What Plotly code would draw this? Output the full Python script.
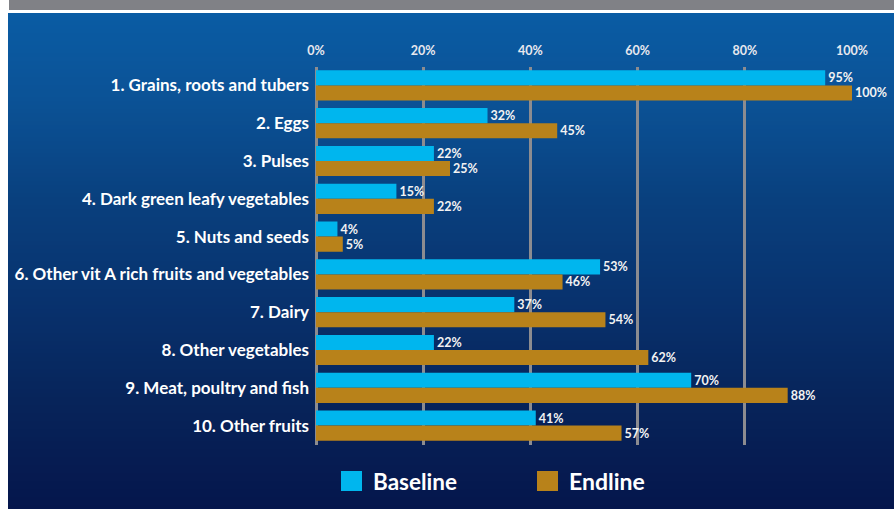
import plotly.graph_objects as go

W, H = 894, 509

categories = [
    "1. Grains, roots and tubers",
    "2. Eggs",
    "3. Pulses",
    "4. Dark green leafy vegetables",
    "5. Nuts and seeds",
    "6. Other vit A rich fruits and vegetables",
    "7. Dairy",
    "8. Other vegetables",
    "9. Meat, poultry and fish",
    "10. Other fruits",
]
baseline = [95, 32, 22, 15, 4, 53, 37, 22, 70, 41]
endline = [100, 45, 25, 22, 5, 46, 54, 62, 88, 57]
x_ticks = [0, 20, 40, 60, 80, 100]
x_ticklabels = ["0%", "20%", "40%", "60%", "80%", "100%"]

CYAN = "#00B6EE"
GOLD = "#B8821A"
FONT = "Lato"


def px(x):
    return x / W


def py(y):
    return 1 - y / H


fig = go.Figure()
fig.add_trace(go.Bar(
    y=categories, x=baseline, orientation="h", name="Baseline",
    marker=dict(color=CYAN, line=dict(width=0)),
    text=[f"{v}%" for v in baseline], textposition="outside", cliponaxis=False,
    textfont=dict(color="#F2F2F2", size=12.5, family=FONT, weight="bold"),
))
fig.add_trace(go.Bar(
    y=categories, x=endline, orientation="h", name="Endline",
    marker=dict(color=GOLD, line=dict(width=0)),
    text=[f"{v}%" for v in endline], textposition="outside", cliponaxis=False,
    textfont=dict(color="#F2F2F2", size=12.5, family=FONT, weight="bold"),
))

# background gradient (decoration)
stops = [(13, (10, 92, 164)), (100, (11, 82, 150)), (200, (9, 64, 126)),
         (300, (8, 50, 110)), (400, (7, 36, 90)), (509, (5, 22, 76))]


def col_at(y):
    for (y0, c0), (y1, c1) in zip(stops[:-1], stops[1:]):
        if y0 <= y <= y1:
            t = (y - y0) / (y1 - y0)
            return "rgb(%d,%d,%d)" % tuple(round(a + (b - a) * t) for a, b in zip(c0, c1))
    return "rgb(%d,%d,%d)" % stops[-1][1]


shapes = []
step = 4
y = 13
while y < H:
    y2 = min(y + step, H)
    shapes.append(dict(type="rect", xref="paper", yref="paper", layer="below",
                       x0=px(8), x1=1, y0=py(y2), y1=py(y), line=dict(width=0),
                       fillcolor=col_at((y + y2) / 2)))
    y = y2
# grey strip at top
shapes.append(dict(type="rect", xref="paper", yref="paper", layer="below",
                   x0=px(9), x1=1, y0=py(10), y1=1, line=dict(width=0),
                   fillcolor="#808186"))
# legend swatches
shapes.append(dict(type="rect", xref="paper", yref="paper",
                   x0=px(341), x1=px(362), y0=py(491), y1=py(471),
                   line=dict(width=0), fillcolor=CYAN))
shapes.append(dict(type="rect", xref="paper", yref="paper",
                   x0=px(537), x1=px(558), y0=py(491), y1=py(471),
                   line=dict(width=0), fillcolor=GOLD))

annotations = [
    dict(text="Baseline", xref="paper", yref="paper", x=px(371), y=py(481),
         xanchor="left", yanchor="middle", showarrow=False,
         font=dict(color="white", size=22.5, family=FONT, weight="bold")),
    dict(text="Endline", xref="paper", yref="paper", x=px(567), y=py(481),
         xanchor="left", yanchor="middle", showarrow=False,
         font=dict(color="white", size=23, family=FONT, weight="bold")),
]

fig.update_layout(
    width=W, height=H,
    margin=dict(l=0, r=0, t=0, b=0),
    paper_bgcolor="white", plot_bgcolor="rgba(0,0,0,0)",
    barmode="group", bargap=0.2, bargroupgap=0,
    showlegend=False,
    shapes=shapes, annotations=annotations,
    font=dict(family=FONT, color="white"),
    xaxis=dict(
        domain=[px(316), px(852)], range=[0, 100], side="top",
        tickvals=x_ticks, ticktext=x_ticklabels,
        tickfont=dict(size=12.5, color="#E8E8EE", family=FONT, weight="bold"),
        showgrid=True, gridcolor="#8C8C90", gridwidth=2.5,
        zeroline=True, zerolinecolor="#8C8C90", zerolinewidth=2.5,
        showline=False, ticks="", automargin=False, fixedrange=True,
        ticklabelstandoff=8,
    ),
    yaxis=dict(
        domain=[py(444.5), py(66.5)], autorange="reversed",
        tickfont=dict(size=17, color="white", family=FONT, weight="bold"),
        showgrid=False, zeroline=False, showline=False, ticks="",
        automargin=False, ticklabelstandoff=6,
    ),
)

fig.write_html("out.html")
